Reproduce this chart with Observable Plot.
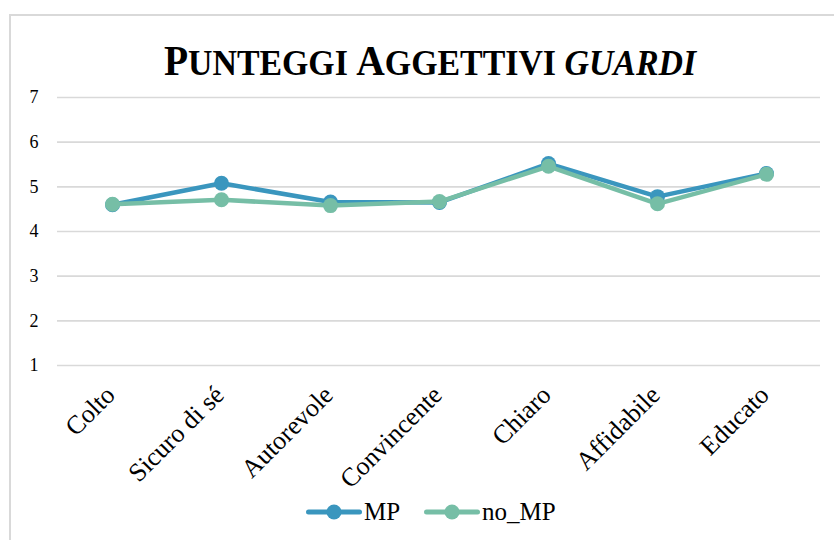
<!DOCTYPE html>
<html><head><meta charset="utf-8">
<script src="https://cdn.jsdelivr.net/npm/d3@7"></script>
<script src="https://cdn.jsdelivr.net/npm/@observablehq/plot@0.6"></script>
<style>
body{margin:0;background:#fff;width:834px;height:540px;overflow:hidden;position:relative;font-family:'Liberation Serif','Times New Roman',serif;}
#chart svg, #chart svg text{font-family:'Liberation Serif','Times New Roman',serif !important;}
#frame{position:absolute;left:9px;top:14px;width:860px;height:560px;border:2px solid #d9d9d9;box-sizing:border-box;}
#title{position:absolute;top:40px;left:0;width:860px;text-align:center;font-weight:bold;color:#000;white-space:nowrap;line-height:1;transform:scaleX(0.94);transform-origin:430px 0;}
#title .big{font-size:42px;}
#title .sc{font-size:36px;}
#chart{position:absolute;left:0;top:80px;}
#legend{position:absolute;left:0;top:497px;width:834px;height:30px;}
.item{position:absolute;top:0;height:30px;}
.item svg{position:absolute;left:0;top:0;}
.item span{position:absolute;top:1px;font-size:25px;color:#000;white-space:nowrap;font-family:'Liberation Serif','Times New Roman',serif;}
</style></head>
<body>
<div id="frame"></div>
<div id="title"></div>
<div id="chart"></div>
<div id="legend"></div>
<script>
const categories = ["Colto", "Sicuro di sé", "Autorevole", "Convincente", "Chiaro", "Affidabile", "Educato"];
const seriesNames = ["MP", "no_MP"];
const seriesColors = ["#3a96be", "#76bea6"];
const mpValues = [4.60, 5.08, 4.66, 4.65, 5.52, 4.78, 5.30];
const noMpValues = [4.61, 4.71, 4.58, 4.67, 5.46, 4.62, 5.28];
const yTicks = [1, 2, 3, 4, 5, 6, 7];
const titleMain = "Punteggi aggettivi";
const titleItalic = "guardi";

const rows = [];
categories.forEach((c, i) => {
  rows.push({cat: c, series: seriesNames[0], v: mpValues[i]});
  rows.push({cat: c, series: seriesNames[1], v: noMpValues[i]});
});

// title (small caps)
const t = document.getElementById("title");
const words = titleMain.split(" ");
let html = "";
words.forEach((w) => {
  html += `<span class="big">${w[0].toUpperCase()}</span><span class="sc">${w.slice(1).toUpperCase()}&nbsp;</span>`;
});
html += `<i class="sc">${titleItalic.toUpperCase()}</i>`;
t.innerHTML = html;

const font = "'Liberation Serif','Times New Roman',serif";
const marks = [
  Plot.gridY(yTicks, {stroke: "#d9d9d9", strokeOpacity: 1, strokeWidth: 1.6}),
  Plot.axisY({ticks: yTicks, tickSize: 0, tickPadding: 19, fontSize: 18, fontFamily: font, fill: "#000", label: null, tickFormat: d3.format("d")}),
  Plot.text(categories, {x: d => d, frameAnchor: "bottom", rotate: -45, textAnchor: "end", dx: 4, dy: 31, fontSize: 26, fontFamily: font, fill: "#000"})
];
seriesNames.forEach(s => {
  const d = rows.filter(r => r.series === s);
  marks.push(Plot.line(d, {x: "cat", y: "v", stroke: "series", strokeWidth: 4.5, strokeLinejoin: "round", strokeLinecap: "round"}));
  marks.push(Plot.dot(d, {x: "cat", y: "v", fill: "series", r: 7.5}));
});

const chart = Plot.plot({
  width: 834,
  height: 460,
  marginLeft: 57,
  marginRight: 14,
  marginTop: 17,
  marginBottom: 175,
  style: {background: "transparent"},
  x: {type: "point", domain: categories, padding: 0.5, axis: null},
  y: {domain: [1, 7], axis: null},
  color: {domain: seriesNames, range: seriesColors},
  marks
});
document.getElementById("chart").appendChild(chart);

// legend
const legend = document.getElementById("legend");
const lefts = [306, 424];
seriesNames.forEach((s, i) => {
  const it = document.createElement("div");
  it.className = "item";
  it.style.left = lefts[i] + "px";
  it.innerHTML = `<svg width="56" height="30"><line x1="2.5" y1="15" x2="53.5" y2="15" stroke="${seriesColors[i]}" stroke-width="5" stroke-linecap="round"/><circle cx="28" cy="15" r="7.5" fill="${seriesColors[i]}"/></svg><span style="left:58px">${s}</span>`;
  legend.appendChild(it);
});
</script>
</body></html>
